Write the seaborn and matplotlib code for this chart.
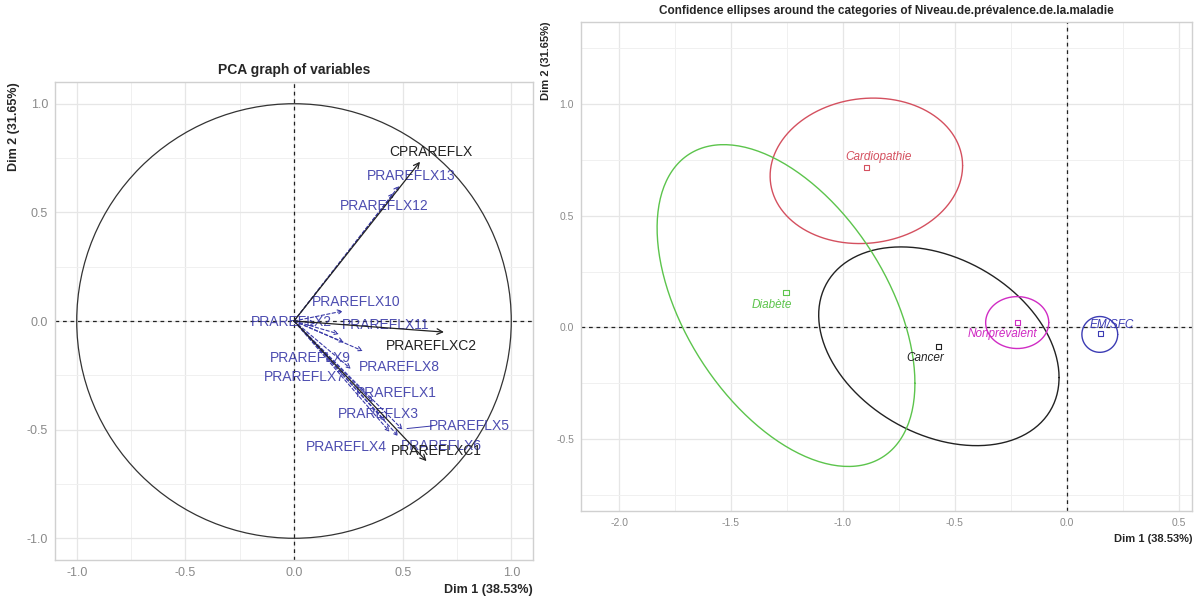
import numpy as np
import pandas as pd
import seaborn as sns
import matplotlib.pyplot as plt

# ---- left panel: variable coordinates (Dim 1, Dim 2)
active_vars = ['CPRAREFLX', 'PRAREFLXC2', 'PRAREFLXC1']
active_x = [0.58, 0.69, 0.61]
active_y = [0.733, -0.051, -0.645]
active_lab_x = [0.631, 0.631, 0.654]
active_lab_y = [0.779, -0.115, -0.599]

sup_vars = ['PRAREFLX13', 'PRAREFLX12', 'PRAREFLX10', 'PRAREFLX2', 'PRAREFLX11',
            'PRAREFLX9', 'PRAREFLX8', 'PRAREFLX7', 'PRAREFLX1', 'PRAREFLX3',
            'PRAREFLX5', 'PRAREFLX4', 'PRAREFLX6']
sup_x = [0.484, 0.46, 0.226, 0.10, 0.207, 0.23, 0.317, 0.262, 0.364, 0.42, 0.50, 0.44, 0.48]
sup_y = [0.622, 0.59, 0.046, -0.01, -0.06, -0.098, -0.138, -0.22, -0.373, -0.46, -0.50, -0.51, -0.53]
sup_lab_x = [0.539, 0.415, 0.286, -0.014, 0.424, 0.075, 0.484, 0.048, 0.47, 0.387, 0.806, 0.24, 0.677]
sup_lab_y = [0.668, 0.53, 0.088, -0.005, -0.02, -0.168, -0.213, -0.259, -0.332, -0.428, -0.483, -0.58, -0.575]

# ---- right panel: category means and ellipse centres / spreads
categories = ['Cancer', 'Cardiopathie', 'Diabète', 'EM/SFC', 'Nonprévalent']
cat_x = [-0.571, -0.893, -1.254, 0.152, -0.219]
cat_y = [-0.084, 0.715, 0.155, -0.027, 0.022]
ell_cx = [-0.571, -0.895, -1.254, 0.148, -0.221]
ell_cy = [-0.084, 0.70, 0.098, -0.031, 0.022]
ell_sx = [0.537, 0.43, 0.576, 0.08, 0.141]    # half extent along Dim 1
ell_sy = [0.444, 0.325, 0.719, 0.08, 0.116]   # half extent along Dim 2
ell_cxy = [-0.075, 0.01, -0.20, 0.0, 0.0]     # covariance term
lab_x = [-0.63, -0.84, -1.317, 0.20, -0.287]
lab_y = [-0.138, 0.76, 0.102, 0.009, -0.03]
cat_colors = ['#222222', '#d4505f', '#5cc44c', '#3c3cb4', '#d02cc4']

sns.set_theme(style='whitegrid')
plt.rcParams['font.family'] = ['Liberation Sans', 'DejaVu Sans']

fig = plt.figure(figsize=(11.95, 5.97), dpi=100)
axL = fig.add_axes([55 / 1195, 37 / 597, 478 / 1195, 478 / 597])
axR = fig.add_axes([581 / 1195, 86 / 597, 611 / 1195, 489 / 597])


def style_axes(ax, major, minor, tick_size):
    ax.set_xticks(major[0])
    ax.set_yticks(major[1])
    ax.set_xticks(minor[0], minor=True)
    ax.set_yticks(minor[1], minor=True)
    ax.grid(True, which='major', color='#e6e6e6', lw=0.9)
    ax.grid(True, which='minor', color='#f0f0f0', lw=0.7)
    ax.tick_params(which='both', length=0, labelsize=tick_size, labelcolor='#8a8a8a', pad=5)
    ax.tick_params(which='minor', labelbottom=False, labelleft=False)
    for s in ax.spines.values():
        s.set_color('#d0d0d0')
        s.set_linewidth(1)
    ax.axhline(0, color='#222222', ls=(0, (3, 3)), lw=0.9, zorder=1)
    ax.axvline(0, color='#222222', ls=(0, (3, 3)), lw=0.9, zorder=1)


# ---------------- left: PCA graph of variables
axL.set_xlim(-1.1, 1.1)
axL.set_ylim(-1.1, 1.1)
style_axes(axL, ([-1, -0.5, 0, 0.5, 1], [-1, -0.5, 0, 0.5, 1]),
           ([-0.75, -0.25, 0.25, 0.75], [-0.75, -0.25, 0.25, 0.75]), 9)
axL.set_xticklabels(['-1.0', '-0.5', '0.0', '0.5', '1.0'])
axL.set_yticklabels(['-1.0', '-0.5', '0.0', '0.5', '1.0'])
axL.add_patch(plt.Circle((0, 0), 1, fill=False, color='#333333', lw=0.9))

blue = '#3a3aa8'
for v, x, y, lx, ly in zip(sup_vars, sup_x, sup_y, sup_lab_x, sup_lab_y):
    axL.annotate('', xy=(x, y), xytext=(0, 0),
                 arrowprops=dict(arrowstyle='->', color=blue, lw=0.8, ls=(0, (3, 2)),
                                 shrinkA=0, shrinkB=0, mutation_scale=8))
    if v == 'PRAREFLX5':
        axL.plot([x + 0.02, lx - 0.17], [y + 0.005, ly], color=blue, lw=0.7)
    axL.text(lx, ly, v, color=blue, fontsize=10, ha='center', va='center', alpha=0.9)

for v, x, y, lx, ly in zip(active_vars, active_x, active_y, active_lab_x, active_lab_y):
    axL.annotate('', xy=(x, y), xytext=(0, 0),
                 arrowprops=dict(arrowstyle='->', color='#222222', lw=0.9,
                                 shrinkA=0, shrinkB=0, mutation_scale=10))
    axL.text(lx, ly, v, color='#222222', fontsize=10, ha='center', va='center')

axL.set_title('PCA graph of variables', fontsize=10, fontweight='bold', pad=6)
axL.set_xlabel('Dim 1 (38.53%)', fontsize=9, fontweight='bold', loc='right', labelpad=4)
axL.set_ylabel('Dim 2 (31.65%)', fontsize=9, fontweight='bold', loc='top', labelpad=5)

# ---------------- right: confidence ellipses
t = np.linspace(0, 2 * np.pi, 240)
rows = []
for c, cx, cy, sx, sy, cxy in zip(categories, ell_cx, ell_cy, ell_sx, ell_sy, ell_cxy):
    L = np.linalg.cholesky(np.array([[sx ** 2, cxy], [cxy, sy ** 2]]))
    pts = L @ np.vstack([np.cos(t), np.sin(t)])
    rows.append(pd.DataFrame({'cat': c, 'x': cx + pts[0], 'y': cy + pts[1]}))
ell_df = pd.concat(rows, ignore_index=True)
pal = dict(zip(categories, cat_colors))

axR.set_xlim(-2.17, 0.56)
axR.set_ylim(-0.82, 1.365)
style_axes(axR, ([-2, -1.5, -1, -0.5, 0, 0.5], [-0.5, 0, 0.5, 1]),
           ([-1.75, -1.25, -0.75, -0.25, 0.25], [-0.75, -0.25, 0.25, 0.75, 1.25]), 7.5)
axR.set_xticklabels(['-2.0', '-1.5', '-1.0', '-0.5', '0.0', '0.5'])
axR.set_yticklabels(['-0.5', '0.0', '0.5', '1.0'])

sns.lineplot(data=ell_df, x='x', y='y', hue='cat', palette=pal, sort=False,
             estimator=None, lw=1.0, legend=False, ax=axR)
pts_df = pd.DataFrame({'cat': categories, 'x': cat_x, 'y': cat_y})
sns.scatterplot(data=pts_df, x='x', y='y', hue='cat', palette=pal, marker='s',
                s=14, linewidth=0.8, legend=False, ax=axR)
coll = axR.collections[-1]
coll.set_edgecolors(coll.get_facecolors())
coll.set_facecolors('none')
for c, lx, ly, col in zip(categories, lab_x, lab_y, cat_colors):
    axR.text(lx, ly, c, color=col, fontsize=8.5, style='italic', ha='center', va='center')

axR.set_title('Confidence ellipses around the categories of Niveau.de.prévalence.de.la.maladie',
              fontsize=8.5, fontweight='bold', pad=6)
axR.set_xlabel('Dim 1 (38.53%)', fontsize=8, fontweight='bold', loc='right', labelpad=4)
axR.set_ylabel('Dim 2 (31.65%)', fontsize=8, fontweight='bold', loc='top', labelpad=4)

fig.savefig('out.png', dpi=100, facecolor='white')
